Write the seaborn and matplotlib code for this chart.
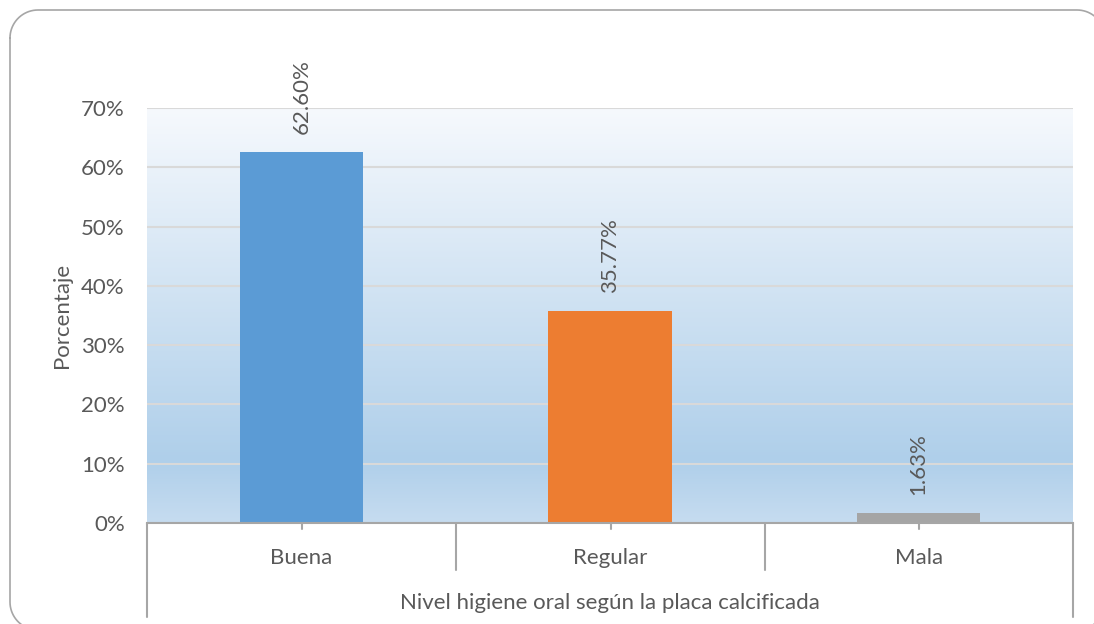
import matplotlib
matplotlib.use("Agg")
import matplotlib.pyplot as plt
import seaborn as sns
import pandas as pd
import numpy as np
from matplotlib.colors import LinearSegmentedColormap

categories = ["Buena", "Regular", "Mala"]
values = [62.60, 35.77, 1.63]
value_labels = ["62.60%", "35.77%", "1.63%"]
bar_colors = ["#5B9BD5", "#ED7D31", "#A5A5A5"]
y_ticks = [0, 10, 20, 30, 40, 50, 60, 70]

sns.set_theme(style="white")
plt.rcParams['font.family'] = ['Lato', 'DejaVu Sans']
txt = "#595959"
line_col = "#A6A6A6"

df = pd.DataFrame({"Nivel": categories, "Porcentaje": values})

fig = plt.figure(figsize=(10.94, 6.24), dpi=100)
fig.patch.set_facecolor("white")

# overlay in pixel units for the frame and the category table
ov = fig.add_axes([0, 0, 1, 1])
ov.set_xlim(0, 1094)
ov.set_ylim(624, 0)
ov.axis("off")

# rounded frame (right and bottom edges run off the canvas)
x0, y0, x1, y1, r = 10, 10, 1105, 630, 28
t = np.linspace(0, np.pi / 2, 20)
fx = np.concatenate([x0 + r - r * np.cos(t), x1 - r + r * np.sin(t),
                     x1 - r + r * np.cos(t), x0 + r - r * np.sin(t), [x0]])
fy = np.concatenate([y0 + r - r * np.sin(t), y0 + r - r * np.cos(t),
                     y1 - r + r * np.sin(t), y1 - r + r * np.cos(t), [y0 + r]])
ov.plot(fx, fy, color=line_col, lw=1.2, clip_on=False)

ax = fig.add_axes([147 / 1094, 1 - 523 / 624, 926 / 1094, 415 / 624])

# gradient background of the plot area
cmap = LinearSegmentedColormap.from_list(
    "bg", [(0.0, "#C6DCF0"), (0.15, "#AFCFEA"), (1.0, "#F6F9FD")])
grad = np.linspace(0, 1, 256).reshape(-1, 1)
ax.imshow(grad, cmap=cmap, aspect="auto", origin="lower",
          extent=(-0.5, 2.5, 0, 70), zorder=0)

sns.barplot(data=df, x="Nivel", y="Porcentaje", hue="Nivel",
            palette=bar_colors, width=0.4, saturation=1, legend=False,
            edgecolor="none", linewidth=0, ax=ax, zorder=3)

ax.set_xlim(-0.5, 2.5)
ax.set_ylim(0, 70)
ax.set_yticks(y_ticks)
ax.set_yticklabels([f"{t}%" for t in y_ticks], fontsize=16, color=txt)
ax.tick_params(axis="y", length=0, pad=16)
ax.tick_params(axis="x", length=0)
ax.set_xticklabels([])
ax.set_xlabel("")
ax.set_ylabel("Porcentaje", fontsize=16, color=txt)
ax.yaxis.set_label_coords(-0.081, 0.5)

for tk in y_ticks[1:]:
    ax.axhline(tk, color="#D9D9D9", linewidth=1.5, zorder=1)

for s in ["top", "right", "left"]:
    ax.spines[s].set_visible(False)
ax.spines["bottom"].set_color(line_col)
ax.spines["bottom"].set_linewidth(1.5)
ax.spines["bottom"].set_zorder(4)

for i, (v, lab) in enumerate(zip(values, value_labels)):
    ax.annotate(lab, (i, v), xytext=(0, 13), textcoords="offset points",
                rotation=90, ha="center", va="bottom", fontsize=16, color=txt)

# category table under the axis
bounds = [147, 456, 765, 1073]
for k, bx in enumerate(bounds):
    bottom = 617 if k in (0, len(bounds) - 1) else 570
    ov.plot([bx, bx], [523, bottom], color=line_col, lw=1.5)
for k, cat in enumerate(categories):
    cx = (bounds[k] + bounds[k + 1]) / 2
    ov.plot([cx, cx], [523, 529], color=line_col, lw=1.5)
    ov.text(cx, 558, cat, ha="center", va="center", fontsize=16, color=txt)

ov.text((bounds[0] + bounds[-1]) / 2, 603,
        "Nivel higiene oral según la placa calcificada",
        ha="center", va="center", fontsize=16, color=txt)

fig.savefig("out.png", dpi=100)
